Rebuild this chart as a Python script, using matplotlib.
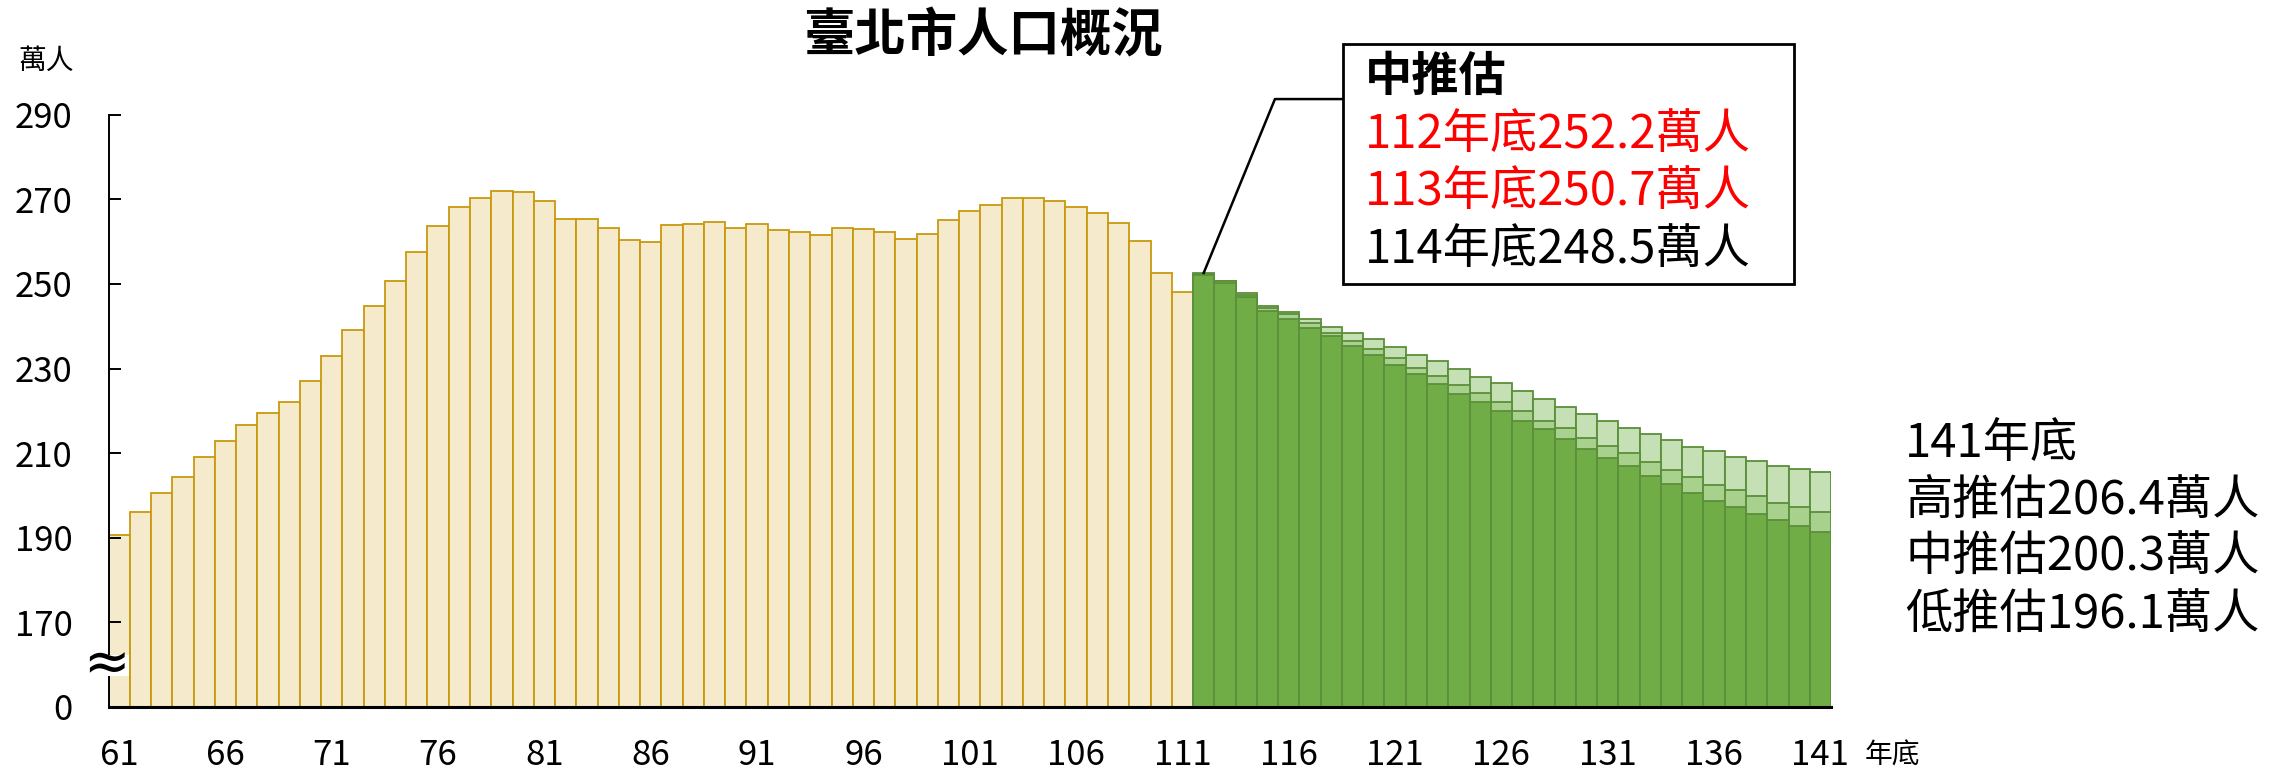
import matplotlib
matplotlib.use('Agg')
import matplotlib.pyplot as plt
from matplotlib.patches import Rectangle

plt.rcParams['font.family'] = ['Noto Sans CJK TC', 'DejaVu Sans']

# 年底人口 (萬人)
hist_years = list(range(61, 112))
hist_pop = [190.7, 196.0, 200.6, 204.3, 209.2, 212.8, 216.6, 219.5, 222.2, 227.0,
            233.0, 239.0, 244.9, 250.8, 257.6, 263.6, 268.1, 270.3, 271.9, 271.8,
            269.6, 265.3, 265.3, 263.3, 260.5, 259.8, 263.9, 264.1, 264.6, 263.3,
            264.1, 262.7, 262.2, 261.6, 263.2, 262.9, 262.3, 260.7, 261.8, 265.0,
            267.3, 268.6, 270.2, 270.4, 269.5, 268.3, 266.8, 264.5, 260.2, 252.5,
            248.0]

# 推估 (萬人)
proj_years = list(range(112, 142))
proj_high = [252.6, 250.8, 247.8, 244.8, 243.3, 241.8, 239.9, 238.5, 236.9, 235.0,
             233.1, 231.7, 229.8, 228.0, 226.5, 224.6, 222.8, 220.9, 219.3, 217.5,
             215.9, 214.5, 213.0, 211.5, 210.4, 209.2, 208.1, 207.0, 206.2, 205.6]
proj_mid = [252.4, 250.6, 247.3, 244.2, 242.8, 240.7, 238.3, 236.6, 234.6, 232.4,
            230.2, 228.3, 226.1, 224.2, 222.0, 220.0, 217.7, 215.9, 213.6, 211.7,
            210.0, 207.9, 206.1, 204.3, 202.4, 201.3, 199.8, 198.3, 197.2, 196.1]
proj_low = [252.0, 250.2, 246.9, 243.6, 241.8, 239.5, 237.6, 235.4, 233.1, 230.9,
            228.6, 226.4, 224.0, 222.2, 220.0, 217.7, 215.6, 213.3, 211.1, 208.8,
            206.9, 204.7, 202.8, 200.6, 198.7, 197.2, 195.7, 194.2, 192.8, 191.3]

y_ticks = [150, 170, 190, 210, 230, 250, 270, 290]
y_labels = ['0', '170', '190', '210', '230', '250', '270', '290']
x_ticks = list(range(61, 142, 5))

base = 150  # 斷軸: 0 畫在 150 的位置

fig = plt.figure(figsize=(22.9, 7.72), dpi=100)
ax = fig.add_axes([0.04738, 0.0842, 0.7522, 0.7672])

ax.bar(hist_years, [v - base for v in hist_pop], bottom=base, width=1.0,
       color='#F6EACD', edgecolor='#C99A0E', linewidth=1.3)

green_edge = '#5B8F3A'
ax.bar(proj_years, [v - base for v in proj_high], bottom=base, width=1.0,
       color='#C5E0B4', edgecolor=green_edge, linewidth=1.3)
ax.bar(proj_years, [v - base for v in proj_mid], bottom=base, width=1.0,
       color='#A9D18E', edgecolor=green_edge, linewidth=1.3)
ax.bar(proj_years, [v - base for v in proj_low], bottom=base, width=1.0,
       color='#70AD47', edgecolor=green_edge, linewidth=1.3)

ax.set_xlim(60.5, 141.5)
ax.set_ylim(150, 290)
ax.set_yticks(y_ticks)
ax.set_yticklabels(y_labels)
ax.set_xticks(x_ticks)
ax.set_xticklabels([str(x) for x in x_ticks])
ax.tick_params(axis='y', direction='in', length=8.6, width=1.4, labelsize=25, pad=26)
ax.tick_params(axis='x', length=0, labelsize=25, pad=22)

for s in ['top', 'right']:
    ax.spines[s].set_visible(False)
ax.spines['left'].set_linewidth(1.4)
ax.spines['bottom'].set_linewidth(2.2)

# 斷軸符號
ax.add_patch(Rectangle((59.3, 157.3), 2.15, 5.0, facecolor='white', edgecolor='none',
                       clip_on=False, zorder=5))
ax.text(60.38, 159.8, '≈', fontsize=40, family='DejaVu Sans', ha='center', va='center',
        zorder=6, clip_on=False)

fig.text(0.4293, 0.9534, '臺北市人口概況', fontsize=37, fontweight='bold',
         ha='center', va='center')
fig.text(0.0201, 0.921, '萬人', fontsize=20, ha='center', va='center')
fig.text(0.8262, 0.0207, '年底', fontsize=20, ha='center', va='center')

# 中推估 說明框
fig.patches.append(Rectangle((0.5865, 0.6321), 0.1969, 0.3109, transform=fig.transFigure,
                             facecolor='white', edgecolor='black', linewidth=2, zorder=3))
box_lines = [('中推估', 'black', 'bold'), ('112年底252.2萬人', '#FF0000', 'normal'),
             ('113年底250.7萬人', '#FF0000', 'normal'), ('114年底248.5萬人', 'black', 'normal')]
for (txt, col, wt), yy in zip(box_lines, [0.900, 0.825, 0.751, 0.677]):
    fig.text(0.596, yy, txt, fontsize=34, color=col, fontweight=wt,
             ha='left', va='center', zorder=4)

ax.plot([proj_years[0], 115.35, 118.6], [proj_high[0], 293.7, 293.7], color='black',
        linewidth=1.8, clip_on=False, zorder=4)

right_lines = ['141年底', '高推估206.4萬人', '中推估200.3萬人', '低推估196.1萬人']
for txt, yy in zip(right_lines, [0.4249, 0.351, 0.2772, 0.202]):
    fig.text(0.8319, yy, txt, fontsize=34, ha='left', va='center')

fig.savefig('out.png', dpi=100)
